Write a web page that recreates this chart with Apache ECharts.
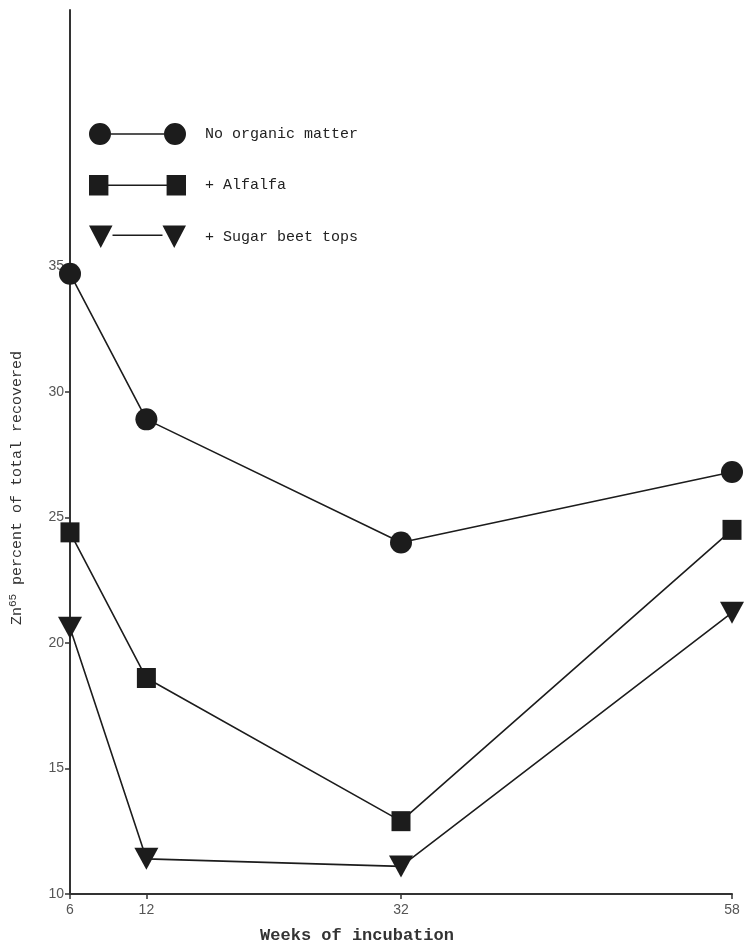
<!DOCTYPE html>
<html>
<head>
<meta charset="utf-8">
<script src="https://cdn.jsdelivr.net/npm/echarts@6/dist/echarts.min.js"></script>
<style>
  html, body { margin: 0; padding: 0; background: #ffffff; }
  #chart { width: 748px; height: 944px; }
</style>
</head>
<body>
<div id="chart"></div>
<script>
// Weeks of incubation at which samples were taken
const weeks = [6, 12, 32, 58];

// Zn65 recovered, percent of total
const noOrganicMatter = [34.7, 28.9, 24.0, 26.8];
const alfalfa = [24.4, 18.6, 12.9, 24.5];
const sugarBeetTops = [20.6, 11.4, 11.1, 21.2];

const seriesNames = ['No organic matter', '+ Alfalfa', '+ Sugar beet tops'];

// Axis tick labels
const xTicks = [6, 12, 32, 58];
const yTicks = [10, 15, 20, 25, 30, 35];

const ink = '#1c1c1c';
const mono = '"Liberation Mono", "DejaVu Sans Mono", monospace';

// Legend icons: marker - line - marker
const iconCircle = 'path://M0,11 a11,11 0 1,0 22,0 a11,11 0 1,0 -22,0 Z M75,11 a11,11 0 1,0 22,0 a11,11 0 1,0 -22,0 Z M22,10.2 h53 v1.6 h-53 Z';
const iconSquare = 'path://M0,1 h19 v20 h-19 Z M76,1 h19 v20 h-19 Z M19,10.2 h57 v1.6 h-57 Z';
const iconTriangle = 'path://M0,0 h24 l-12,23 Z M75,0 h24 l-12,23 Z M24,9.2 h51 v1.6 h-51 Z';

function pairs(values) {
  return weeks.map((w, i) => [w, values[i]]);
}

const chart = echarts.init(document.getElementById('chart'), null, { renderer: 'canvas' });

chart.setOption({
  backgroundColor: '#ffffff',
  animation: false,
  grid: { left: 70, right: 16, top: 10, bottom: 50, containLabel: false, outerBoundsMode: 'none' },
  legend: {
    orient: 'vertical',
    left: 84,
    top: 118,
    itemWidth: 97,
    itemHeight: 23,
    itemGap: 30,
    textStyle: { fontFamily: mono, fontSize: 15, color: '#222', padding: [0, 0, 0, 14] },
    data: [
      { name: seriesNames[0], icon: iconCircle },
      { name: seriesNames[1], icon: iconSquare },
      { name: seriesNames[2], icon: iconTriangle }
    ]
  },
  xAxis: {
    type: 'value',
    min: 6,
    max: 58,
    splitLine: { show: false },
    axisLine: { show: true, lineStyle: { color: '#333', width: 2 } },
    axisTick: { show: true, customValues: xTicks, length: 5, lineStyle: { color: '#333', width: 1.5 } },
    axisLabel: { customValues: xTicks, color: '#555', fontSize: 14, fontFamily: 'Liberation Sans, Arial, sans-serif', margin: 9 },
    name: 'Weeks of incubation',
    nameLocation: 'middle',
    nameGap: 33,
    nameTextStyle: { fontFamily: mono, fontSize: 17, fontWeight: 'bold', color: '#333', padding: [0, 88, 0, 0] }
  },
  yAxis: {
    type: 'value',
    min: 10,
    max: 45.2,
    splitLine: { show: false },
    axisLine: { show: true, lineStyle: { color: '#333', width: 2 } },
    axisTick: { show: true, customValues: yTicks, length: 5, lineStyle: { color: '#333', width: 1.5 } },
    axisLabel: { customValues: yTicks, color: '#555', fontSize: 14, fontFamily: 'Liberation Sans, Arial, sans-serif', margin: 6 },
    name: '{a|Zn}{s|65}{a| percent of total recovered}',
    nameLocation: 'middle',
    nameGap: 43,
    nameRotate: 90,
    nameTextStyle: {
      padding: [0, 72, 0, 0],
      rich: {
        a: { fontFamily: mono, fontSize: 15, color: '#333' },
        s: { fontFamily: mono, fontSize: 11, color: '#333', verticalAlign: 'top', padding: [0, 0, 8, 0] }
      }
    }
  },
  series: [
    {
      name: seriesNames[0],
      type: 'line',
      data: pairs(noOrganicMatter),
      symbol: 'circle',
      symbolSize: 22,
      lineStyle: { color: ink, width: 1.6 },
      itemStyle: { color: ink }
    },
    {
      name: seriesNames[1],
      type: 'line',
      data: pairs(alfalfa),
      symbol: 'rect',
      symbolSize: [19, 20],
      lineStyle: { color: ink, width: 1.6 },
      itemStyle: { color: ink }
    },
    {
      name: seriesNames[2],
      type: 'line',
      data: pairs(sugarBeetTops),
      symbol: 'triangle',
      symbolRotate: 180,
      symbolSize: [24, 22],
      lineStyle: { color: ink, width: 1.6 },
      itemStyle: { color: ink }
    }
  ]
});
</script>
</body>
</html>
